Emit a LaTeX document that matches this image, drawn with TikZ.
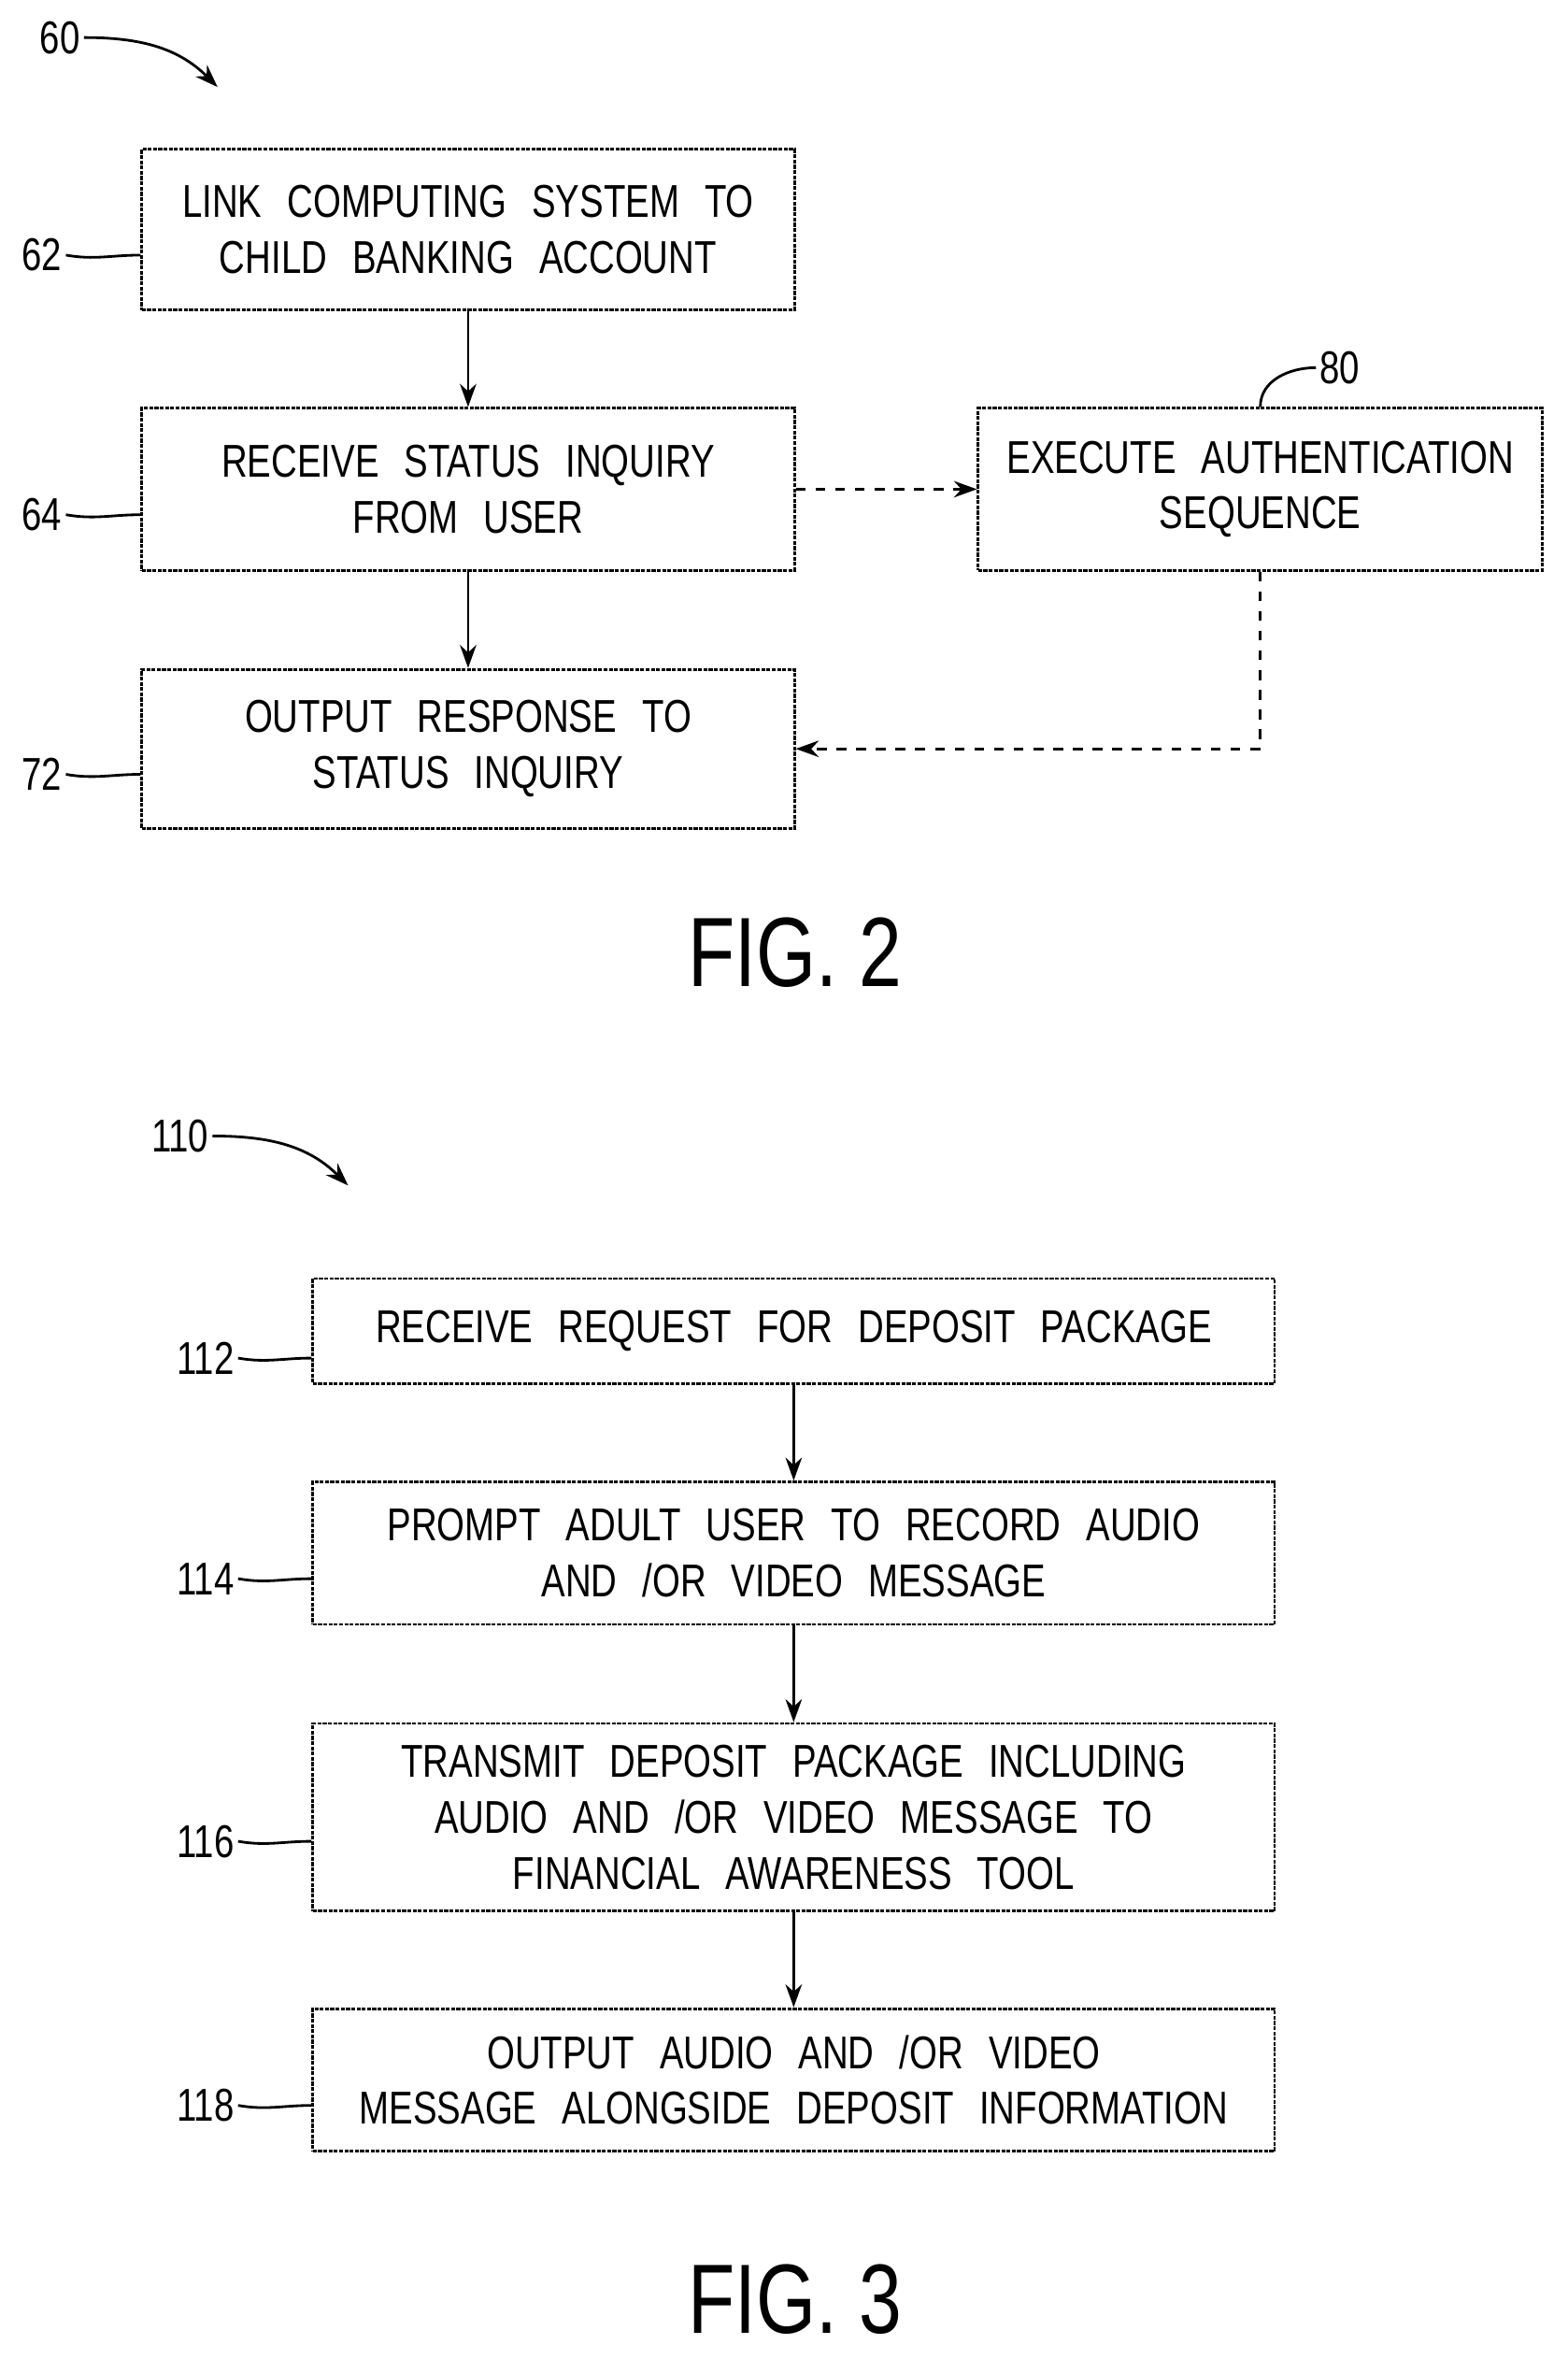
\documentclass[tikz,border=0pt]{standalone}
\usepackage{fontspec}
\setmainfont{Liberation Sans}[FakeStretch=0.78]
\usetikzlibrary{arrows.meta,positioning}
\tikzset{
  stepbox/.style={draw,thick,dash pattern=on 1.2pt off 0.4pt,align=center,inner sep=0pt,
    font=\fontsize{14}{17}\selectfont,execute at begin node={\spaceskip=0.55em}},
  ref/.style={font=\fontsize{14}{17}\selectfont,inner sep=1pt},
  flow/.style={thick,-{Stealth[length=7pt,width=5pt]}},
  dflow/.style={thick,dashed,-{Stealth[length=7pt,width=5pt]}},
  lead/.style={thick}
}
\begin{document}
\begin{tikzpicture}[x=0.01605cm,y=-0.01605cm]
  \useasboundingbox (0,0) rectangle (1045,1572);

  % FIG. 2
  \node[stepbox,minimum width=435*0.01605cm,minimum height=107*0.01605cm] (b62) at (312,153) {LINK COMPUTING SYSTEM TO\\CHILD BANKING ACCOUNT};
  \node[stepbox,minimum width=435*0.01605cm,minimum height=108*0.01605cm] (b64) at (312,326) {RECEIVE STATUS INQUIRY\\FROM USER};
  \node[stepbox,minimum width=435*0.01605cm,minimum height=106*0.01605cm] (b72) at (312,499) {OUTPUT RESPONSE TO\\STATUS INQUIRY};
  \node[stepbox,minimum width=376*0.01605cm,minimum height=108*0.01605cm] (b80) at (840,326) {EXECUTE AUTHENTICATION\\SEQUENCE};
  \coordinate (c80) at (840,499);

  \draw[flow] (b62) -- (b64);
  \draw[flow] (b64) -- (b72);
  \draw[dflow] (b64) -- (b80);
  \draw[dflow] (b80.south) -- (c80) -- (b72.east |- c80);

  \node[ref] (l60) at (40,25) {60};
  \node[ref] (l62) at (28,170) {62};
  \node[ref] (l64) at (28,343) {64};
  \node[ref] (l72) at (28,516) {72};
  \node[ref] (l80) at (893,245) {80};
  \draw[flow] (l60.east) to[out=0,in=135] (145,58);
  \draw[lead] (l62.east) to[out=-10,in=180] (b62.west |- l62);
  \draw[lead] (l64.east) to[out=-10,in=180] (b64.west |- l64);
  \draw[lead] (l72.east) to[out=-10,in=180] (b72.west |- l72);
  \draw[lead] (b80.north) to[out=90,in=180] (l80.west);

  \node[font=\fontsize{30}{32}\selectfont] (f2) at (530,635) {FIG. 2};

  % FIG. 3
  \node[stepbox,minimum width=641*0.01605cm,minimum height=70*0.01605cm] (b112) at (529,887) {RECEIVE REQUEST FOR DEPOSIT PACKAGE};
  \node[stepbox,minimum width=641*0.01605cm,minimum height=95*0.01605cm] (b114) at (529,1035) {PROMPT ADULT USER TO RECORD AUDIO\\AND /OR VIDEO MESSAGE};
  \node[stepbox,minimum width=641*0.01605cm,minimum height=125*0.01605cm] (b116) at (529,1211) {TRANSMIT DEPOSIT PACKAGE INCLUDING\\AUDIO AND /OR VIDEO MESSAGE TO\\FINANCIAL AWARENESS TOOL};
  \node[stepbox,minimum width=641*0.01605cm,minimum height=95*0.01605cm] (b118) at (529,1386) {OUTPUT AUDIO AND /OR VIDEO\\MESSAGE ALONGSIDE DEPOSIT INFORMATION};

  \draw[flow] (b112) -- (b114);
  \draw[flow] (b114) -- (b116);
  \draw[flow] (b116) -- (b118);

  \node[ref] (l110) at (120,757) {110};
  \node[ref] (l112) at (137,905) {112};
  \node[ref] (l114) at (137,1052) {114};
  \node[ref] (l116) at (137,1227) {116};
  \node[ref] (l118) at (137,1403) {118};
  \draw[flow] (l110.east) to[out=0,in=135] (232,790);
  \draw[lead] (l112.east) to[out=-10,in=180] (b112.west |- l112);
  \draw[lead] (l114.east) to[out=-10,in=180] (b114.west |- l114);
  \draw[lead] (l116.east) to[out=-10,in=180] (b116.west |- l116);
  \draw[lead] (l118.east) to[out=-10,in=180] (b118.west |- l118);

  \node[font=\fontsize{30}{32}\selectfont] (f3) at (530,1532) {FIG. 3};
\end{tikzpicture}
\end{document}
